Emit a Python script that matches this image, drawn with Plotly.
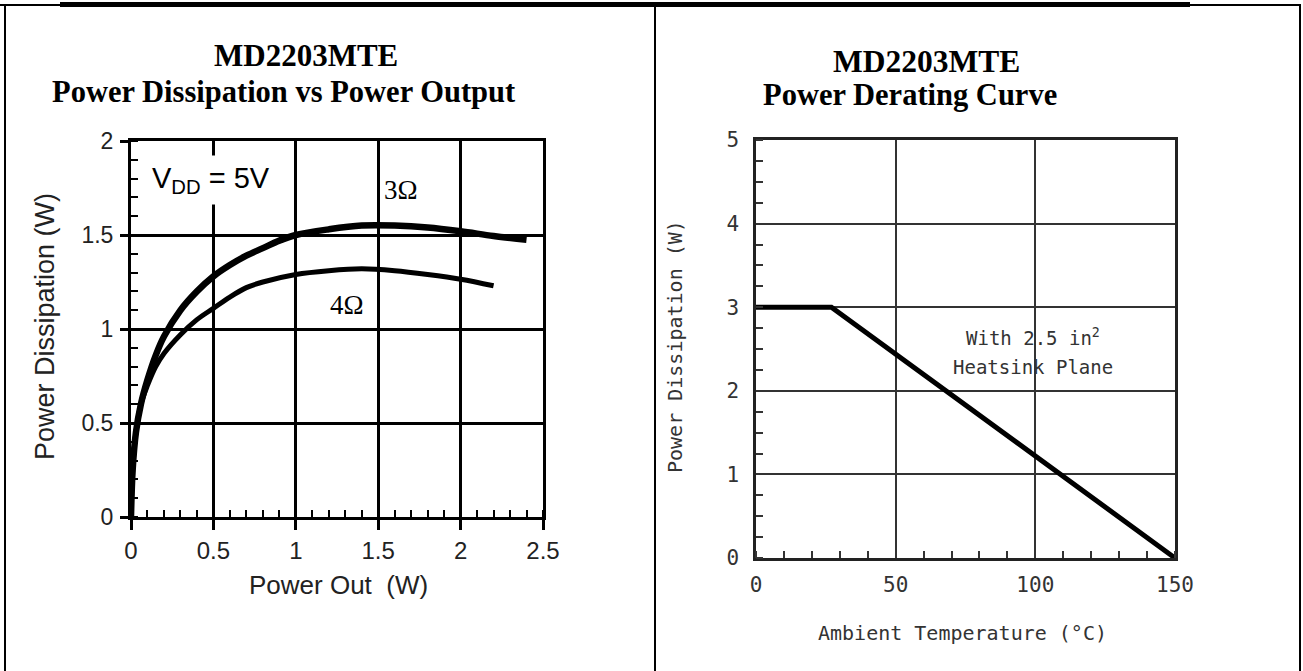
import plotly.graph_objects as go

W, H = 1303, 671

# ---- data: left chart (Power Dissipation vs Power Output) ----
pout_3ohm = [0, 0.01, 0.03, 0.06, 0.1, 0.15, 0.2, 0.3, 0.4, 0.5, 0.6, 0.7, 0.8, 0.9, 1.0, 1.2, 1.4, 1.6, 1.8, 2.0, 2.2, 2.4]
pdis_3ohm = [0, 0.25, 0.45, 0.6, 0.73, 0.86, 0.96, 1.1, 1.2, 1.28, 1.34, 1.39, 1.43, 1.47, 1.5, 1.53, 1.55, 1.55, 1.54, 1.52, 1.495, 1.475]
pout_4ohm = [0, 0.01, 0.03, 0.06, 0.1, 0.15, 0.2, 0.3, 0.4, 0.5, 0.6, 0.7, 0.8, 1.0, 1.2, 1.4, 1.6, 1.8, 2.0, 2.2]
pdis_4ohm = [0, 0.25, 0.45, 0.6, 0.7, 0.8, 0.87, 0.97, 1.05, 1.11, 1.17, 1.22, 1.25, 1.29, 1.31, 1.32, 1.31, 1.29, 1.265, 1.23]
left_xticks = [0, 0.5, 1, 1.5, 2, 2.5]
left_yticks = [0, 0.5, 1, 1.5, 2]

# ---- data: right chart (Power Derating Curve) ----
ambient_temp = [0, 27, 150]
derated_power = [3, 3, 0]
right_xticks = [0, 50, 100, 150]
right_yticks = [0, 1, 2, 3, 4, 5]


def px(x):
    return x / W


def py(y):
    return 1 - y / H


SANS = "Liberation Sans, Arial, sans-serif"
SERIF = "Liberation Serif, Times New Roman, serif"
MONO = "DejaVu Sans Mono, monospace"

fig = go.Figure()

fig.add_trace(go.Scatter(x=pout_3ohm, y=pdis_3ohm, mode="lines", line=dict(color="black", width=6.5, shape="spline"),
                         xaxis="x", yaxis="y", showlegend=False, hoverinfo="skip"))
fig.add_trace(go.Scatter(x=pout_4ohm, y=pdis_4ohm, mode="lines", line=dict(color="black", width=5, shape="spline"),
                         xaxis="x", yaxis="y", showlegend=False, hoverinfo="skip"))
fig.add_trace(go.Scatter(x=ambient_temp, y=derated_power, mode="lines", line=dict(color="black", width=5),
                         xaxis="x2", yaxis="y2", showlegend=False, hoverinfo="skip"))

left_xtick_font = dict(family=SANS, size=24, color="#222")
left_ytick_font = dict(family=SANS, size=23, color="#222")
right_tick_font = dict(family=MONO, size=21, color="#333")

fig.update_layout(
    width=W, height=H, autosize=False,
    margin=dict(l=0, r=0, t=0, b=0, autoexpand=False),
    paper_bgcolor="white", plot_bgcolor="white",
    xaxis=dict(domain=[px(131), px(543)], range=[0, 2.5], anchor="y", automargin=False,
               tickvals=left_xticks, ticktext=[f"{v:g}" for v in left_xticks],
               ticks="outside", ticklen=10, tickwidth=3, tickcolor="black",
               ticklabelstandoff=0, tickfont=left_xtick_font,
               showline=True, linewidth=3, linecolor="black", mirror=True,
               showgrid=True, gridcolor="black", gridwidth=3, zeroline=False,
               minor=dict(dtick=0.1, tick0=0, ticks="inside", ticklen=7, tickwidth=2, tickcolor="black", showgrid=False)),
    yaxis=dict(domain=[py(517), py(141)], range=[0, 2], anchor="x", automargin=False,
               tickvals=left_yticks, ticktext=[f"{v:g}" for v in left_yticks],
               ticks="outside", ticklen=8, tickwidth=3, tickcolor="black",
               ticklabelstandoff=2, tickfont=left_ytick_font,
               showline=True, linewidth=3, linecolor="black", mirror=True,
               showgrid=True, gridcolor="black", gridwidth=3, zeroline=False,
               minor=dict(dtick=0.1, tick0=0, ticks="inside", ticklen=7, tickwidth=2, tickcolor="black", showgrid=False)),
    xaxis2=dict(domain=[px(756), px(1175)], range=[0, 150], anchor="y2", automargin=False,
                tickvals=right_xticks, ticktext=[str(v) for v in right_xticks],
                ticks="", ticklabelstandoff=6, tickfont=right_tick_font,
                showline=True, linewidth=2.5, linecolor="#222", mirror=True,
                showgrid=True, gridcolor="#333", gridwidth=2, zeroline=False,
                minor=dict(dtick=10, tick0=0, ticks="inside", ticklen=7, tickwidth=2, tickcolor="#333", showgrid=False)),
    yaxis2=dict(domain=[py(558), py(140)], range=[0, 5], anchor="x2", automargin=False,
                tickvals=right_yticks, ticktext=[str(v) for v in right_yticks],
                ticks="", ticklabelstandoff=10, tickfont=right_tick_font,
                showline=True, linewidth=2.5, linecolor="#222", mirror=True,
                showgrid=True, gridcolor="#333", gridwidth=2, zeroline=False,
                minor=dict(dtick=0.25, tick0=0, ticks="inside", ticklen=7, tickwidth=2, tickcolor="#333", showgrid=False)),
)

ann = []
# titles
ann.append(dict(text="<b>MD2203MTE</b>", x=px(306), y=py(56), xref="paper", yref="paper",
                showarrow=False, xanchor="center", yanchor="middle", font=dict(family=SERIF, size=31, color="black")))
ann.append(dict(text="<b>Power Dissipation vs Power Output</b>", x=px(284), y=py(92), xref="paper", yref="paper",
                showarrow=False, xanchor="center", yanchor="middle", font=dict(family=SERIF, size=30.5, color="black")))
ann.append(dict(text="<b>MD2203MTE</b>", x=px(926), y=py(61), xref="paper", yref="paper",
                showarrow=False, xanchor="center", yanchor="middle", font=dict(family=SERIF, size=31.5, color="black")))
ann.append(dict(text="<b>Power Derating Curve</b>", x=px(761), y=py(95), xref="paper", yref="paper",
                showarrow=False, xanchor="left", yanchor="middle", font=dict(family=SERIF, size=30.5, color="black")))
# axis titles
ann.append(dict(text="Power Out  (W)", x=px(338), y=py(585), xref="paper", yref="paper",
                showarrow=False, xanchor="center", yanchor="middle", font=dict(family=SANS, size=26, color="#222")))
ann.append(dict(text="Power Dissipation (W)", x=px(45), y=py(327), xref="paper", yref="paper", textangle=-90,
                showarrow=False, xanchor="center", yanchor="middle", font=dict(family=SANS, size=27, color="#222")))
ann.append(dict(text="Ambient Temperature (°C)", x=px(962), y=py(633), xref="paper", yref="paper",
                showarrow=False, xanchor="center", yanchor="middle", font=dict(family=MONO, size=20, color="#333")))
ann.append(dict(text="Power Dissipation (W)", x=px(675), y=py(347), xref="paper", yref="paper", textangle=-90,
                showarrow=False, xanchor="center", yanchor="middle", font=dict(family=MONO, size=20, color="#333")))
# in-plot labels
ann.append(dict(text="V<sub>DD</sub> = 5V", x=0.484, y=1.79, xref="x", yref="y",
                showarrow=False, xanchor="center", yanchor="middle", bgcolor="white", borderpad=6,
                font=dict(family=SANS, size=29, color="black")))
ann.append(dict(text="3Ω", x=1.64, y=1.74, xref="x", yref="y", showarrow=False,
                font=dict(family=SERIF, size=27, color="black")))
ann.append(dict(text="4Ω", x=1.31, y=1.13, xref="x", yref="y", showarrow=False,
                font=dict(family=SERIF, size=27, color="black")))
ann.append(dict(text="With 2.5 in<sup>2</sup>", x=99, y=2.64, xref="x2", yref="y2", showarrow=False,
                font=dict(family=MONO, size=19, color="#333")))
ann.append(dict(text="Heatsink Plane", x=99, y=2.28, xref="x2", yref="y2", showarrow=False,
                font=dict(family=MONO, size=19, color="#333")))
fig.update_layout(annotations=ann)

# table frame around the two charts
shapes = []
shapes.append(dict(type="line", xref="paper", yref="paper", x0=px(0), x1=px(60), y0=py(5), y1=py(5),
                   line=dict(color="black", width=2)))
shapes.append(dict(type="line", xref="paper", yref="paper", x0=px(60), x1=px(1190), y0=py(4.5), y1=py(4.5),
                   line=dict(color="black", width=5)))
shapes.append(dict(type="line", xref="paper", yref="paper", x0=px(1190), x1=px(1301), y0=py(5), y1=py(5),
                   line=dict(color="black", width=2)))
for xv in (5, 655, 1300):
    shapes.append(dict(type="line", xref="paper", yref="paper", x0=px(xv), x1=px(xv), y0=py(5), y1=py(H),
                       line=dict(color="black", width=2)))
fig.update_layout(shapes=shapes)

fig.write_html("out.html")
